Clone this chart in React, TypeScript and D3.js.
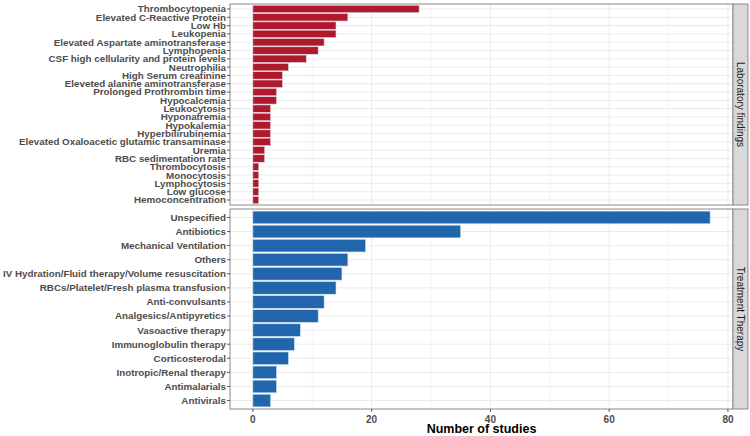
import React from "react";
import * as d3 from "d3";

const labCategories = [
  "Thrombocytopenia",
  "Elevated C-Reactive Protein",
  "Low Hb",
  "Leukopenia",
  "Elevated Aspartate aminotransferase",
  "Lymphopenia",
  "CSF high cellularity and protein levels",
  "Neutrophilia",
  "High Serum creatinine",
  "Eleveted alanine aminotransferase",
  "Prolonged Prothrombin time",
  "Hypocalcemia",
  "Leukocytosis",
  "Hyponatremia",
  "Hypokalemia",
  "Hyperbilirubinemia",
  "Elevated Oxaloacetic glutamic transaminase",
  "Uremia",
  "RBC sedimentation rate",
  "Thrombocytosis",
  "Monocytosis",
  "Lymphocytosis",
  "Low glucose",
  "Hemoconcentration",
];
const labValues = [28, 16, 14, 14, 12, 11, 9, 6, 5, 5, 4, 4, 3, 3, 3, 3, 3, 2, 2, 1, 1, 1, 1, 1];

const treatCategories = [
  "Unspecified",
  "Antibiotics",
  "Mechanical Ventilation",
  "Others",
  "IV Hydration/Fluid therapy/Volume resuscitation",
  "RBCs/Platelet/Fresh plasma transfusion",
  "Anti-convulsants",
  "Analgesics/Antipyretics",
  "Vasoactive therapy",
  "Immunoglobulin therapy",
  "Corticosterodal",
  "Inotropic/Renal therapy",
  "Antimalarials",
  "Antivirals",
];
const treatValues = [77, 35, 19, 16, 15, 14, 12, 11, 8, 7, 6, 4, 4, 3];

const xMajorTicks = [0, 20, 40, 60, 80];
const xMinorTicks = [10, 30, 50, 70];

const panelLabels = ["Laboratory findings", "Treatment Therapy"];
const xTitle = "Number of studies";

const W = 750;
const H = 436;
const left = 230;
const right = 733;
const stripW = 15;

const maxVal = d3.max([...labValues, ...treatValues]) as number;
const x = d3
  .scaleLinear()
  .domain([-0.05 * maxVal, maxVal * 1.05])
  .range([left, right]);

const panels = [
  { cats: labCategories, vals: labValues, top: 4, bottom: 205, color: "#B2182B", label: panelLabels[0] },
  { cats: treatCategories, vals: treatValues, top: 209, bottom: 409, color: "#2166AC", label: panelLabels[1] },
];

const font = "Liberation Sans, Arial, Helvetica, sans-serif";

function Panel({ p }: { p: (typeof panels)[number] }) {
  const y = d3.scalePoint<string>().domain(p.cats).range([p.top, p.bottom]).padding(0.6);
  const step = y.step();
  const bh = step * 0.9;
  return (
    <g>
      <rect x={left} y={p.top} width={right - left} height={p.bottom - p.top} fill="#fff" />
      {xMinorTicks.map((t) => (
        <line key={"mi" + t} x1={x(t)} x2={x(t)} y1={p.top} y2={p.bottom} stroke="#EBEBEB" strokeWidth={0.5} />
      ))}
      {xMajorTicks.map((t) => (
        <line key={"ma" + t} x1={x(t)} x2={x(t)} y1={p.top} y2={p.bottom} stroke="#EBEBEB" strokeWidth={1} />
      ))}
      {p.cats.map((c) => (
        <line key={"h" + c} x1={left} x2={right} y1={y(c)} y2={y(c)} stroke="#EBEBEB" strokeWidth={1} />
      ))}
      {p.cats.map((c, i) => (
        <rect
          key={"b" + c}
          x={x(0)}
          y={(y(c) as number) - bh / 2}
          width={x(p.vals[i]) - x(0)}
          height={bh}
          fill={p.color}
          stroke="#d8e4ef"
          strokeWidth={0.6}
        />
      ))}
      <rect x={left} y={p.top} width={right - left} height={p.bottom - p.top} fill="none" stroke="#8a8a8a" strokeWidth={1} />
      {p.cats.map((c) => (
        <g key={"t" + c}>
          <line x1={left - 3} x2={left} y1={y(c)} y2={y(c)} stroke="#333" strokeWidth={0.8} />
          <text
            x={left - 4}
            y={y(c)}
            dy="0.35em"
            textAnchor="end"
            fontFamily={font}
            fontWeight="bold"
            fontSize={9.8}
            fill="#4D4D4D"
          >
            {c}
          </text>
        </g>
      ))}
      <rect
        x={right}
        y={p.top}
        width={stripW}
        height={p.bottom - p.top}
        fill="#D9D9D9"
        stroke="#8a8a8a"
        strokeWidth={1}
      />
      <text
        transform={`translate(${right + stripW / 2},${(p.top + p.bottom) / 2}) rotate(90)`}
        textAnchor="middle"
        dy="0.35em"
        fontFamily={font}
        fontSize={10}
        fill="#1A1A1A"
      >
        {p.label}
      </text>
    </g>
  );
}

export default function App() {
  const bottom = panels[1].bottom;
  return (
    <svg width={W} height={H} style={{ position: "absolute", left: 0, top: 0, background: "#fff" }}>
      <rect width={W} height={H} fill="#fff" />
      {panels.map((p) => (
        <Panel key={p.label} p={p} />
      ))}
      {xMajorTicks.map((t) => (
        <g key={"xt" + t}>
          <line x1={x(t)} x2={x(t)} y1={bottom} y2={bottom + 3} stroke="#333" strokeWidth={0.8} />
          <text
            x={x(t)}
            y={bottom + 6}
            dy="0.75em"
            textAnchor="middle"
            fontFamily={font}
            fontWeight="bold"
            fontSize={10}
            fill="#4D4D4D"
          >
            {t}
          </text>
        </g>
      ))}
      <text
        x={(left + right) / 2}
        y={433}
        textAnchor="middle"
        fontFamily={font}
        fontWeight="bold"
        fontSize={12.5}
        fill="#000"
      >
        {xTitle}
      </text>
    </svg>
  );
}
